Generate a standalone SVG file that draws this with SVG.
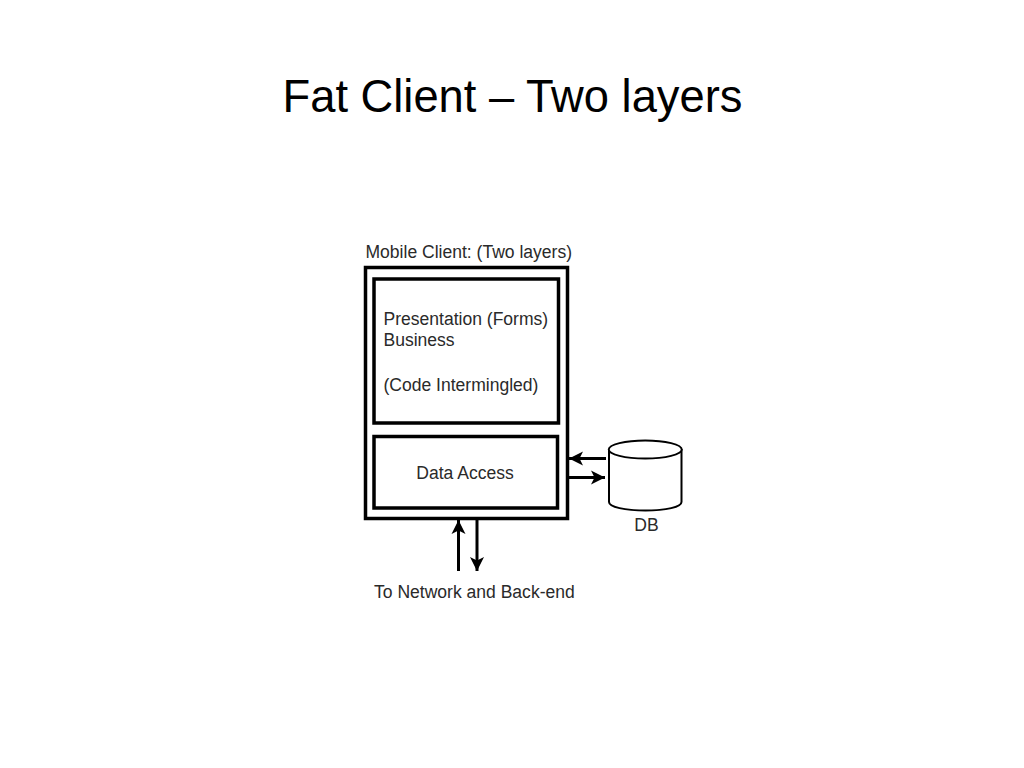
<svg xmlns="http://www.w3.org/2000/svg" width="1024" height="768" viewBox="0 0 1024 768">
<style>
text{font-family:"Liberation Sans",Arial,sans-serif}
.lbl{font-size:17.55px;fill:#2a2a2a}
.box{fill:#fff;stroke:#000}
.con{fill:none;stroke:#000;stroke-width:3}
.db{fill:#fff;stroke:#000;stroke-width:2}
</style>
<defs>
<marker id="ah" markerUnits="userSpaceOnUse" markerWidth="16" markerHeight="16" refX="14" refY="8" orient="auto"><path d="M0 1 L14 8 L0 15 L3.500 8 Z" fill="#000"/></marker>
</defs>
<rect width="1024" height="768" fill="#fff"/>
<text x="512.500" y="112" font-size="45.300" text-anchor="middle" fill="#000">Fat Client – Two layers</text>
<g id="mobile-client">
<rect class="box" x="365.500" y="267.500" width="202" height="251" stroke-width="3.500"/>
<text class="lbl" x="365.500" y="257.500">Mobile Client: (Two layers)</text>
</g>
<g id="presentation">
<rect class="box" x="374" y="279" width="184.500" height="144" stroke-width="3.500"/>
<text class="lbl" x="383.500" y="325">Presentation (Forms)</text>
<text class="lbl" x="383.500" y="346">Business</text>
<text class="lbl" x="383.500" y="390.500">(Code Intermingled)</text>
</g>
<g id="data-access">
<rect class="box" x="374" y="436.500" width="183.500" height="71.500" stroke-width="3.500"/>
<text class="lbl" x="465" y="479" text-anchor="middle">Data Access</text>
</g>
<g id="db">
<path class="db" d="M609 449 V502 C609 507 625 510.500 645.500 510.500 C666 510.500 681.500 507 681.500 502 V449"/>
<ellipse class="db" cx="645.250" cy="449.500" rx="36.500" ry="9"/>
<text class="lbl" x="646.500" y="531" text-anchor="middle">DB</text>
</g>
<g id="connectors">
<line class="con" x1="606" y1="458.500" x2="569" y2="458.500" marker-end="url(#ah)"/>
<line class="con" x1="569" y1="477.500" x2="605" y2="477.500" marker-end="url(#ah)"/>
<line class="con" x1="458.500" y1="571" x2="458.500" y2="520" marker-end="url(#ah)"/>
<line class="con" x1="477" y1="520" x2="477" y2="571" marker-end="url(#ah)"/>
</g>
<text id="network-label" class="lbl" x="374" y="597.500">To Network and Back-end</text>
</svg>
